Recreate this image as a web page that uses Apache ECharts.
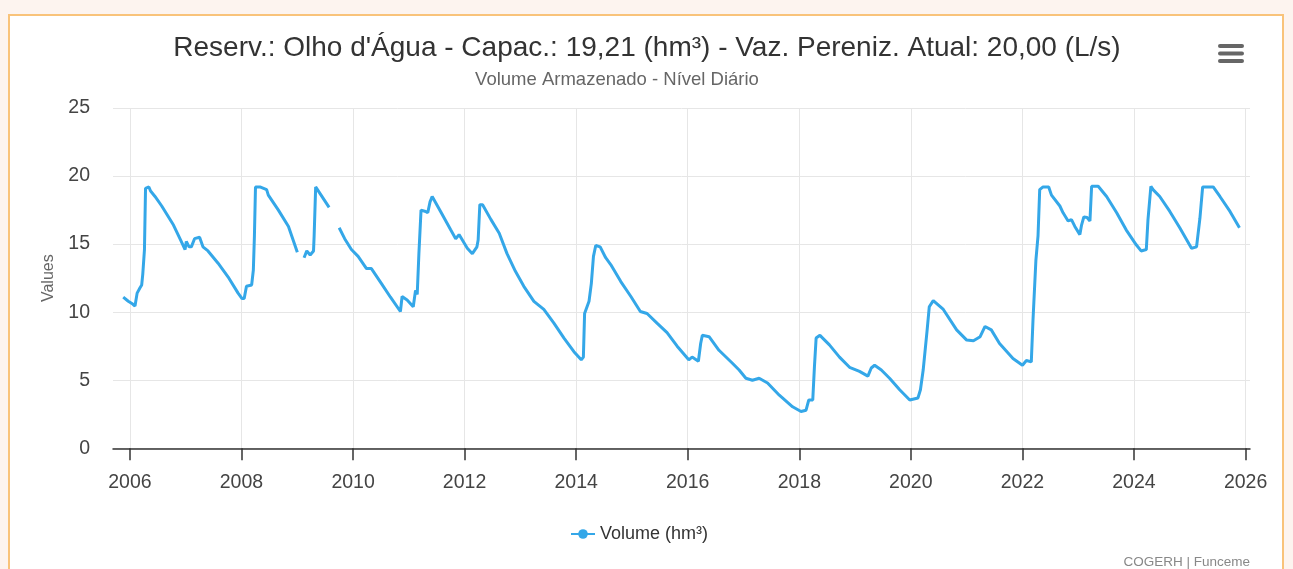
<!DOCTYPE html>
<html>
<head>
<meta charset="utf-8">
<title>Reserv.: Olho d'Água - Volume Armazenado</title>
<script src="https://cdn.jsdelivr.net/npm/echarts@6/dist/echarts.min.js"></script>
<style>
  html, body {
    margin: 0;
    padding: 0;
    width: 1293px;
    height: 569px;
    overflow: hidden;
    background: #fdf4ef;
  }
  .frame {
    position: absolute;
    left: 8px;
    top: 14px;
    width: 1276px;
    height: 600px;
    box-sizing: border-box;
    background: #fff;
    border: 2px solid #f9c37a;
  }
  #chart {
    position: absolute;
    left: 0;
    top: 0;
    width: 1293px;
    height: 569px;
  }
</style>
</head>
<body>
<div class="frame"></div>
<div id="chart"></div>

<script>
// Daily level series, null = no data
const dates = [
  '2005-11-18', '2005-12-21', '2006-01-19', '2006-02-03', '2006-02-17', '2006-03-08', '2006-03-19', '2006-03-26',
  '2006-04-06', '2006-04-13', '2006-05-05', '2006-05-16', '2006-06-14', '2006-07-28', '2006-10-13', '2006-11-29',
  '2006-12-28', '2007-01-05', '2007-01-23', '2007-02-07', '2007-02-28', '2007-04-02', '2007-04-24', '2007-05-27',
  '2007-08-01', '2007-10-05', '2007-12-10', '2008-01-05', '2008-01-19', '2008-02-03', '2008-03-08', '2008-03-19',
  '2008-03-26', '2008-04-02', '2008-05-01', '2008-06-14', '2008-06-25', '2008-08-30', '2008-11-04', '2009-01-01',
  '2009-01-20',
  '2009-02-14', '2009-03-04', '2009-03-26', '2009-04-17', '2009-04-21', '2009-05-01', '2009-05-12', '2009-07-28',
  '2009-09-01',
  '2009-10-02', '2009-11-07', '2009-12-21', '2010-02-03', '2010-03-30', '2010-05-01', '2010-07-06', '2010-09-03',
  '2010-11-07', '2010-11-18', '2010-12-21', '2011-01-30', '2011-02-14', '2011-02-25', '2011-03-08', '2011-03-22',
  '2011-04-21', '2011-05-05', '2011-05-20', '2011-06-03', '2011-07-28', '2011-10-02', '2011-11-04', '2011-11-26',
  '2012-01-19', '2012-02-21', '2012-03-22', '2012-03-30', '2012-04-10', '2012-04-28', '2012-06-22', '2012-08-15',
  '2012-10-05', '2012-11-29', '2013-01-23', '2013-03-30', '2013-06-03', '2013-08-08', '2013-10-13', '2013-12-17',
  '2014-02-03', '2014-02-17', '2014-02-25', '2014-03-26', '2014-04-10', '2014-04-24', '2014-05-09', '2014-06-07',
  '2014-07-13', '2014-08-15', '2014-10-20', '2014-12-25', '2015-02-25', '2015-04-10', '2015-06-14', '2015-08-19',
  '2015-10-24', '2016-01-08', '2016-01-30', '2016-03-11', '2016-03-26', '2016-04-06', '2016-05-20', '2016-07-24',
  '2016-10-20', '2016-12-03', '2017-01-16', '2017-02-28', '2017-04-13', '2017-06-07', '2017-08-23', '2017-11-18',
  '2018-01-12', '2018-02-14', '2018-03-04', '2018-03-30', '2018-04-10', '2018-04-21', '2018-05-16', '2018-07-17',
  '2018-09-21', '2018-11-26', '2019-01-30', '2019-03-26', '2019-04-17', '2019-05-09', '2019-06-22', '2019-08-15',
  '2019-10-20', '2019-12-25', '2020-02-17', '2020-03-04', '2020-03-22', '2020-04-17', '2020-05-01', '2020-05-27',
  '2020-08-01', '2020-10-27', '2021-01-01', '2021-02-14', '2021-03-30', '2021-05-01', '2021-06-11', '2021-08-04',
  '2021-10-31', '2022-01-01', '2022-01-27', '2022-02-28', '2022-03-11', '2022-03-30', '2022-04-13', '2022-04-24',
  '2022-05-16', '2022-06-22', '2022-07-10', '2022-09-03', '2022-09-24', '2022-10-27', '2022-11-18', '2022-12-10',
  '2023-01-12', '2023-01-23', '2023-02-07', '2023-02-28', '2023-03-19', '2023-03-30', '2023-05-12', '2023-07-06',
  '2023-09-10', '2023-11-11', '2024-01-16', '2024-02-17', '2024-03-22', '2024-04-02', '2024-04-21', '2024-05-05',
  '2024-06-18', '2024-08-23', '2024-10-27', '2025-01-12', '2025-02-14', '2025-02-25', '2025-03-08', '2025-03-26',
  '2025-06-03', '2025-07-17', '2025-09-21', '2025-11-22'
]

const volumes = [
  11.1, 10.8, 10.6, 10.45, 11.4, 11.8, 12.0, 12.8,
  14.6, 19.1, 19.2, 18.9, 18.5, 17.8, 16.4, 15.3,
  14.6, 15.2, 14.8, 14.8, 15.4, 15.5, 14.8, 14.5,
  13.6, 12.6, 11.4, 11.0, 11.0, 11.9, 12.0, 13.1,
  15.6, 19.2, 19.2, 19.0, 18.6, 17.5, 16.3, 14.4,
  null,
  14.0, 14.5, 14.2, 14.5, 15.6, 19.2, 19.2, 17.7,
  null,
  16.2, 15.4, 14.6, 14.1, 13.2, 13.2, 12.1, 11.1,
  10.05, 11.15, 10.9, 10.4, 11.6, 11.3, 14.3, 17.5,
  17.4, 17.3, 18.1, 18.5, 17.4, 16.05, 15.4, 15.7,
  14.7, 14.3, 14.8, 15.3, 17.9, 17.9, 16.8, 15.8,
  14.3, 13.0, 11.9, 10.8, 10.2, 9.2, 8.1, 7.1,
  6.5, 6.7, 9.9, 10.8, 12.1, 14.1, 14.9, 14.8,
  14.0, 13.5, 12.25, 11.15, 10.05, 9.9, 9.2, 8.5,
  7.5, 6.5, 6.7, 6.4, 7.7, 8.3, 8.2, 7.2,
  6.25, 5.75, 5.15, 5.0, 5.15, 4.8, 3.9, 3.05,
  2.7, 2.8, 3.55, 3.55, 6.0, 8.1, 8.3, 7.6,
  6.7, 5.95, 5.65, 5.3, 5.9, 6.1, 5.75, 5.15,
  4.3, 3.55, 3.7, 4.3, 5.75, 8.7, 10.4, 10.85,
  10.2, 8.7, 7.95, 7.9, 8.2, 8.95, 8.7, 7.7,
  6.6, 6.1, 6.45, 6.35, 9.4, 13.8, 15.6, 19.0,
  19.2, 19.2, 18.6, 17.8, 17.3, 16.7, 16.8, 16.3,
  15.7, 16.4, 17.0, 16.95, 16.7, 19.25, 19.25, 18.5,
  17.3, 16.05, 14.95, 14.5, 14.6, 16.8, 19.25, 19.0,
  18.5, 17.4, 16.2, 14.7, 14.8, 14.7, 16.9, 19.2,
  19.2, 18.5, 17.4, 16.2
]

const yearTicks = [
  '2006-01-01', '2008-01-01', '2010-01-01', '2012-01-01', '2014-01-01', '2016-01-01',
  '2018-01-01', '2020-01-01', '2022-01-01', '2024-01-01', '2026-01-01'
]

const TITLE = "Reserv.: Olho d'Água - Capac.: 19,21 (hm³) - Vaz. Pereniz. Atual: 20,00 (L/s)"
const SUBTITLE = 'Volume Armazenado - Nível Diário'
const SERIES_NAME = 'Volume (hm³)'
const LINE_COLOR = '#34a7e8'
const FONT = "'Liberation Sans', Arial, Helvetica, sans-serif"

const toTime = d => +echarts.time.parse(d)

const chart = echarts.init(document.getElementById('chart'))

const seriesData = dates.map((d, i) => [toTime(d), volumes[i] === null ? '-' : volumes[i]])
const tickValues = yearTicks.map(toTime)

const option = {
  animation: false,
  textStyle: { fontFamily: FONT },
  title: [
    {
      text: TITLE,
      left: 642,
      top: 29,
      textAlign: 'center',
      textStyle: { fontFamily: FONT, fontSize: 28, fontWeight: 'normal', color: '#333' }
    },
    {
      text: SUBTITLE,
      left: 612,
      top: 65,
      textAlign: 'center',
      textStyle: { fontFamily: FONT, fontSize: 18.5, fontWeight: 'normal', color: '#666' }
    }
  ],
  legend: {
    data: [SERIES_NAME],
    left: 565,
    top: 520,
    itemWidth: 24,
    itemHeight: 12,
    textStyle: { fontFamily: FONT, fontSize: 18, color: '#333' }
  },
  grid: {
    left: 113,
    right: 43,
    top: 108,
    bottom: 120.7,
    outerBoundsMode: 'none'
  },
  // timestamps on a plain value axis, with the year ticks given explicitly
  xAxis: {
    type: 'value',
    min: toTime('2005-09-12'),
    max: toTime('2026-01-30'),
    axisLine: { lineStyle: { color: '#333', width: 1.5 } },
    axisTick: {
      show: true,
      length: 12,
      customValues: tickValues,
      lineStyle: { color: '#333', width: 1.5 }
    },
    axisLabel: {
      customValues: tickValues,
      formatter: v => String(new Date(v).getFullYear()),
      fontFamily: FONT,
      fontSize: 19.5,
      color: '#444',
      margin: 24
    },
    splitLine: { show: true, lineStyle: { color: '#e6e6e6', width: 1 } }
  },
  yAxis: {
    type: 'value',
    min: 0,
    max: 25,
    interval: 5,
    name: 'Values',
    nameLocation: 'middle',
    nameGap: 56,
    nameTextStyle: { fontFamily: FONT, fontSize: 16, color: '#666' },
    axisLine: { show: false },
    axisTick: { show: false },
    axisLabel: { fontFamily: FONT, fontSize: 19.5, color: '#444', margin: 23 },
    splitLine: { lineStyle: { color: '#e6e6e6', width: 1 } }
  },
  series: [
    {
      name: SERIES_NAME,
      type: 'line',
      data: seriesData,
      showSymbol: false,
      symbol: 'circle',
      symbolSize: 10,
      connectNulls: false,
      lineStyle: { color: LINE_COLOR, width: 3 },
      itemStyle: { color: LINE_COLOR }
    }
  ],
  graphic: [
    // export menu (hamburger)
    { type: 'rect', shape: { x: 1218, y: 44, width: 26, height: 4, r: 2 }, style: { fill: '#666' } },
    { type: 'rect', shape: { x: 1218, y: 51.5, width: 26, height: 4, r: 2 }, style: { fill: '#666' } },
    { type: 'rect', shape: { x: 1218, y: 59, width: 26, height: 4, r: 2 }, style: { fill: '#666' } },
    // credits
    {
      type: 'text',
      right: 43,
      top: 555,
      style: { text: 'COGERH | Funceme', font: "13.5px 'Liberation Sans', Arial, sans-serif", fill: '#888' }
    }
  ]
}

chart.setOption(option)
</script>
</body>
</html>
